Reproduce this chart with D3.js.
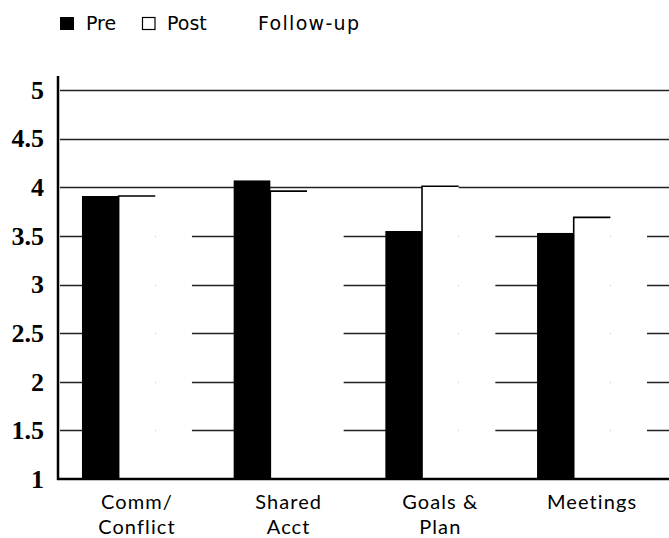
<!DOCTYPE html>
<html>
<head>
<meta charset="utf-8">
<script src="https://cdn.jsdelivr.net/npm/d3@7"></script>
<style>
  body { margin: 0; background: #fff; }
  svg { display: block; }
  .tick-label { font-family: "Liberation Serif", serif; font-weight: bold; font-size: 26px; fill: #000; }
  .cat-label { font-family: Lato, sans-serif; font-size: 20px; letter-spacing: 1.1px; fill: #000; }
  .legend-text { font-family: "DejaVu Sans", sans-serif; font-size: 19px; fill: #000; }
</style>
</head>
<body>
<div id="chart"></div>
<script>
const categories = ['Comm/Conflict', 'Shared Acct', 'Goals & Plan', 'Meetings'];
const categoryLines = [['Comm/', 'Conflict'], ['Shared', 'Acct'], ['Goals &', 'Plan'], ['Meetings']];
const pre = [3.91, 4.07, 3.55, 3.53];
const post = [3.91, 3.96, 4.01, 3.69];
const followUp = [3.8, 3.85, 3.85, 3.75]; // white bars in the print, only visible where they hide the grid
const yTicks = [1, 1.5, 2, 2.5, 3, 3.5, 4, 4.5, 5];

const width = 669;
const height = 538;
const margin = { top: 90, right: 0, bottom: 59, left: 58 };

const svg = d3.select('#chart').append('svg').attr('width', width).attr('height', height);

const x = d3
  .scaleBand()
  .domain(categories)
  .range([margin.left, 671])
  .paddingInner(0.275)
  .paddingOuter(0.158);
const series = ['pre', 'post', 'followUp'];
const xs = d3.scaleBand().domain(series).range([0, x.bandwidth()]);
const y = d3.scaleLinear().domain([1, 5]).range([height - margin.bottom, margin.top]);

const rows = categories.map((c, i) => ({ cat: c, pre: pre[i], post: post[i], followUp: followUp[i] }));

// grid lines first, bars cover them
svg
  .append('g')
  .selectAll('line')
  .data(yTicks.filter((t) => t > 1))
  .join('line')
  .attr('x1', margin.left + 2)
  .attr('x2', width)
  .attr('y1', (d) => Math.round(y(d)) + 0.5)
  .attr('y2', (d) => Math.round(y(d)) + 0.5)
  .attr('stroke', '#222')
  .attr('stroke-width', 1.3);

const groups = svg
  .append('g')
  .selectAll('g')
  .data(rows)
  .join('g')
  .attr('transform', (d) => `translate(${x(d.cat)},0)`);

groups
  .append('rect')
  .attr('x', xs('followUp'))
  .attr('width', xs.bandwidth())
  .attr('y', (d) => y(d.followUp))
  .attr('height', (d) => y(1) - y(d.followUp))
  .attr('fill', '#fff');

groups
  .append('rect')
  .attr('x', xs('post'))
  .attr('width', xs.bandwidth())
  .attr('y', (d) => y(d.post))
  .attr('height', (d) => y(1) - y(d.post))
  .attr('fill', '#fff');

// the post bars only keep their top and left edges in the print
groups
  .append('path')
  .attr('d', (d) => `M${xs('post')},${y(1)}V${y(d.post)}H${xs('post') + xs.bandwidth()}`)
  .attr('fill', 'none')
  .attr('stroke', '#000')
  .attr('stroke-width', 1.6);

groups
  .append('rect')
  .attr('x', xs('pre'))
  .attr('width', xs.bandwidth())
  .attr('y', (d) => y(d.pre))
  .attr('height', (d) => y(1) - y(d.pre))
  .attr('fill', '#000');

// y axis
const yAxis = svg
  .append('g')
  .attr('transform', `translate(${margin.left},0)`)
  .call(d3.axisLeft(y).tickValues(yTicks).tickSize(0).tickPadding(14).tickFormat((d) => d));
yAxis.select('.domain').remove();
yAxis.selectAll('text').attr('class', 'tick-label').attr('font-family', null).attr('font-size', null);

svg
  .append('line')
  .attr('x1', margin.left)
  .attr('x2', margin.left)
  .attr('y1', 76)
  .attr('y2', y(1) + 1)
  .attr('stroke', '#000')
  .attr('stroke-width', 2.5);
svg
  .append('line')
  .attr('x1', margin.left - 1)
  .attr('x2', width)
  .attr('y1', y(1))
  .attr('y2', y(1))
  .attr('stroke', '#000')
  .attr('stroke-width', 2.5);

// category labels
const labels = svg
  .append('g')
  .selectAll('text')
  .data(categories)
  .join('text')
  .attr('class', 'cat-label')
  .attr('text-anchor', 'middle')
  .attr('x', (d) => x(d) + x.bandwidth() / 2)
  .attr('y', 509);
labels
  .selectAll('tspan')
  .data((d, i) => categoryLines[i])
  .join('tspan')
  .attr('x', function () { return this.parentNode.getAttribute('x'); })
  .attr('dy', (d, i) => (i === 0 ? 0 : 24.5))
  .text((d) => d);

// legend
const legend = svg.append('g').attr('transform', 'translate(60,17)');
legend.append('rect').attr('width', 14).attr('height', 13).attr('fill', '#000');
legend.append('text').attr('class', 'legend-text').attr('x', 26).attr('y', 13).text('Pre');
legend
  .append('rect')
  .attr('x', 82.5)
  .attr('y', 0.5)
  .attr('width', 12.5)
  .attr('height', 12)
  .attr('fill', '#fff')
  .attr('stroke', '#000')
  .attr('stroke-width', 1.2);
legend.append('text').attr('class', 'legend-text').attr('x', 107).attr('y', 13).text('Post');
legend.append('rect').attr('x', 178).attr('width', 14).attr('height', 13).attr('fill', '#fff');
legend
  .append('text')
  .attr('class', 'legend-text')
  .attr('x', 198)
  .attr('y', 13)
  .attr('letter-spacing', 1.3)
  .text('Follow-up');
</script>
</body>
</html>
